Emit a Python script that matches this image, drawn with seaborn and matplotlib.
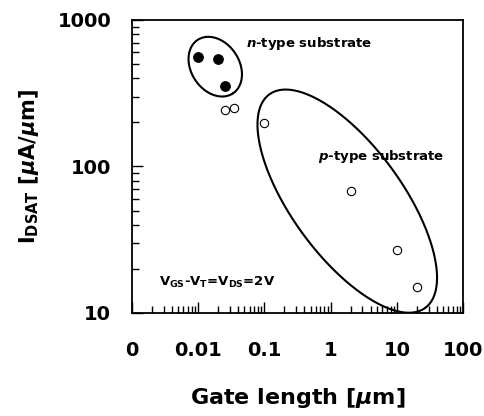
import matplotlib
matplotlib.use("Agg")
import matplotlib.pyplot as plt
import numpy as np
import pandas as pd
import seaborn as sns

# n-type substrate devices (filled)
n_len = [0.01, 0.02, 0.025]
n_idsat = [560, 545, 356]
# p-type substrate devices (open)
p_len = [0.025, 0.035, 0.1, 2, 10, 20]
p_idsat = [243, 252, 197, 68, 27, 15]

x_ticks = [0.001, 0.01, 0.1, 1, 10, 100]
x_tick_labels = ["0", "0.01", "0.1", "1", "10", "100"]
y_ticks = [10, 100, 1000]
y_tick_labels = ["10", "100", "1000"]

sns.set_style("ticks")
plt.rcParams["font.family"] = ["DejaVu Sans"]
plt.rcParams["font.weight"] = "bold"
plt.rcParams["text.color"] = "black"
plt.rcParams["axes.labelcolor"] = "black"
plt.rcParams["xtick.color"] = "black"
plt.rcParams["ytick.color"] = "black"
plt.rcParams["mathtext.fontset"] = "custom"
plt.rcParams["mathtext.rm"] = "DejaVu Sans:bold"
plt.rcParams["mathtext.bf"] = "DejaVu Sans:bold"
plt.rcParams["mathtext.it"] = "DejaVu Sans:bold:italic"

df_n = pd.DataFrame({"L": n_len, "I": n_idsat})
df_p = pd.DataFrame({"L": p_len, "I": p_idsat})

fig = plt.figure(figsize=(4.85, 4.16), dpi=100)
ax = fig.add_axes([0.272, 0.2476, 0.683, 0.7044])

sns.scatterplot(data=df_n, x="L", y="I", ax=ax, color="black", s=48,
                edgecolor="black", linewidth=0.8, zorder=3)
sns.scatterplot(data=df_p, x="L", y="I", ax=ax, color="white", s=36,
                edgecolor="black", linewidth=0.8, zorder=3)

ax.set_xscale("log")
ax.set_yscale("log")
ax.set_xlim(0.001, 100)
ax.set_ylim(10, 1000)

# pixels per decade of the axes (66 px in x, 146.5 px in y)
px_x = 66.0
px_y = 146.5


def draw_ellipse(xc, yc, a, b, ang):
    t = np.linspace(0, 2 * np.pi, 300)
    th = np.deg2rad(ang)
    dx = a * np.cos(t) * np.cos(th) - b * np.sin(t) * np.sin(th)
    dy = a * np.cos(t) * np.sin(th) + b * np.sin(t) * np.cos(th)
    ax.plot(xc * 10 ** (dx / px_x), yc * 10 ** (dy / px_y), color="black", lw=1.5)


draw_ellipse(0.0181, 480, 32, 24, -57)
draw_ellipse(1.78, 58, 132, 55, -54)

ax.text(0.053, 690, r"$\mathit{n}$-type substrate", fontsize=9.5, va="center")
ax.text(0.635, 117, r"$\mathit{p}$-type substrate", fontsize=9.5, va="center")
ax.text(0.0026, 15.2, r"V$_{\mathrm{GS}}$-V$_{\mathrm{T}}$=V$_{\mathrm{DS}}$=2V",
        fontsize=9.5, va="baseline")

ax.set_xticks(x_ticks)
ax.set_xticklabels(x_tick_labels)
ax.set_yticks(y_ticks)
ax.set_yticklabels(y_tick_labels)
ax.tick_params(axis="both", which="major", direction="in", length=8, width=1.0,
               labelsize=14, pad=20, top=False, right=False)
ax.tick_params(axis="y", which="major", pad=15)
ax.tick_params(axis="both", which="minor", direction="in", length=5, width=1.0,
               top=False, right=False)
for sp in ax.spines.values():
    sp.set_linewidth(1.3)
    sp.set_color("black")

ax.set_xlabel(r"Gate length [$\mu$m]", fontsize=16, fontweight="bold", labelpad=19)
ax.set_ylabel(r"I$_{\mathrm{DSAT}}$ [$\mu$A/$\mu$m]", fontsize=15, fontweight="bold",
              labelpad=12)

fig.savefig("out.png", dpi=100)
